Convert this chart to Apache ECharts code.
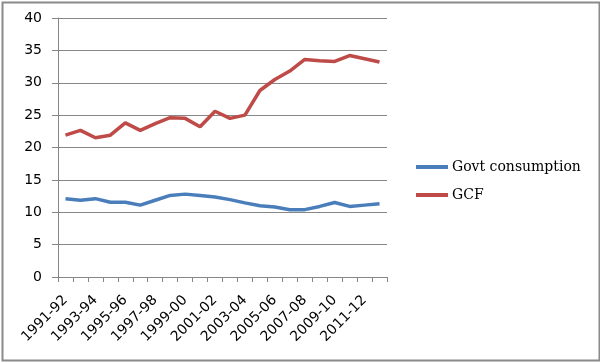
<!DOCTYPE html>
<html><head><meta charset="utf-8">
<script src="https://cdn.jsdelivr.net/npm/echarts@6/dist/echarts.min.js"></script>
<style>html,body{margin:0;padding:0;background:#fff}#c{width:600px;height:363px}</style>
</head><body><div id="c"></div>
<script>
const categories = ['1991-92','1992-93','1993-94','1994-95','1995-96','1996-97','1997-98','1998-99','1999-00','2000-01','2001-02','2002-03','2003-04','2004-05','2005-06','2006-07','2007-08','2008-09','2009-10','2010-11','2011-12','2012-13'];
const govtConsumption = [12.1, 11.85, 12.1, 11.55, 11.55, 11.1, 11.85, 12.6, 12.8, 12.6, 12.35, 11.95, 11.45, 11.0, 10.8, 10.4, 10.4, 10.9, 11.5, 10.9, 11.1, 11.3];
const gcf = [21.9, 22.65, 21.5, 21.9, 23.8, 22.65, 23.7, 24.6, 24.5, 23.2, 25.6, 24.5, 25.0, 28.8, 30.5, 31.8, 33.6, 33.4, 33.3, 34.2, 33.7, 33.2];
const yMin = 0, yMax = 40, yStep = 5;

const chart = echarts.init(document.getElementById('c'), null, {renderer: 'canvas'});
const axisColor = '#878787';
chart.setOption({
  animation: false,
  backgroundColor: '#fff',
  graphic: [{
    type: 'rect', left: 0, top: 0,
    shape: {x: 1, y: 1, width: 597, height: 358},
    style: {fill: 'none', stroke: '#8a8a8a', lineWidth: 2}
  }],
  grid: {left: 58, right: 213, top: 18, bottom: 86, containLabel: false},
  legend: {
    orient: 'vertical', left: 411, top: 155,
    itemWidth: 32, itemHeight: 4, icon: 'rect', itemGap: 14,
    textStyle: {fontFamily: 'DejaVu Serif', fontSize: 14, color: '#000', padding: [0,0,0,-1]},
    data: ['Govt consumption', 'GCF']
  },
  xAxis: {
    type: 'category', data: categories, boundaryGap: true,
    axisLine: {lineStyle: {color: axisColor, width: 1}},
    axisTick: {show: true, interval: 0, length: 5, lineStyle: {color: axisColor}},
    axisLabel: {interval: 1, rotate: 45, margin: 21, hideOverlap: false, fontFamily: 'DejaVu Sans', fontSize: 14, color: '#000'},
    splitLine: {show: false}
  },
  yAxis: {
    type: 'value', min: yMin, max: yMax, interval: yStep,
    axisLine: {show: true, lineStyle: {color: axisColor, width: 1}},
    axisTick: {show: true, length: 6, lineStyle: {color: axisColor}},
    axisLabel: {margin: 16, fontFamily: 'DejaVu Sans', fontSize: 14, color: '#000'},
    splitLine: {show: true, lineStyle: {color: axisColor, width: 1}}
  },
  series: [
    {name: 'Govt consumption', type: 'line', data: govtConsumption, showSymbol: false, symbol: 'none',
     lineStyle: {color: '#4a7ebb', width: 3.5}, itemStyle: {color: '#4a7ebb'}},
    {name: 'GCF', type: 'line', data: gcf, showSymbol: false, symbol: 'none',
     lineStyle: {color: '#be4b48', width: 3.5}, itemStyle: {color: '#be4b48'}}
  ]
});
</script></body></html>
